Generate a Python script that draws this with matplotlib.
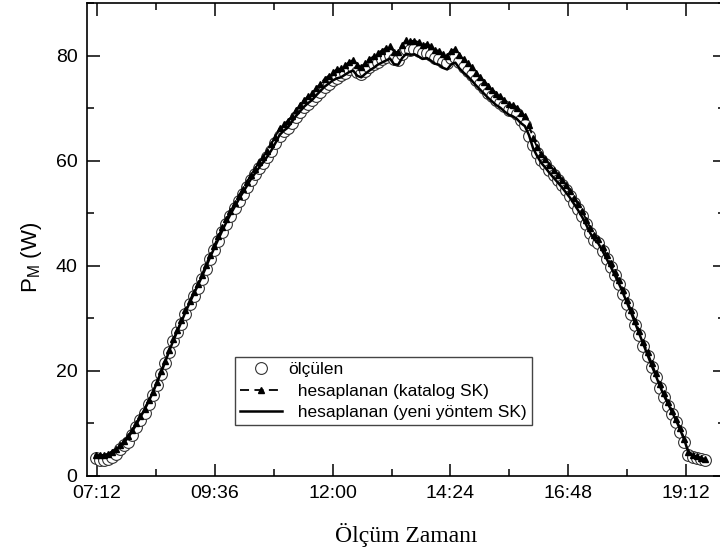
import numpy as np
import matplotlib
matplotlib.use('Agg')
import matplotlib.pyplot as plt
from matplotlib.ticker import FixedLocator, MultipleLocator

plt.rcParams['font.family'] = ['Liberation Sans', 'DejaVu Sans']

# olcumler 07:10'dan itibaren 5 dakikada bir (saat cinsinden)
t_start = 7 + 10 / 60.
t_step = 5 / 60.

# olculen guc (W), her satir bir saat
olculen = [
    3.3, 3.0, 3.0, 3.2, 3.5, 4.2, 5.0, 5.8, 6.5, 7.8, 9.3, 10.7,
    12.0, 13.6, 15.3, 17.3, 19.4, 21.5, 23.6, 25.6, 27.3, 29.0, 30.9, 32.7,
    34.3, 35.8, 37.4, 39.3, 41.3, 43.0, 44.7, 46.4, 48.0, 49.5, 51.0, 52.4,
    53.7, 55.0, 56.3, 57.5, 58.6, 59.6, 60.7, 61.9, 63.3, 64.7, 65.6, 66.2,
    67.2, 68.3, 69.3, 70.2, 70.9, 71.5, 72.4, 73.2, 74.0, 74.6, 75.3, 75.8,
    76.3, 76.8, 77.4, 77.8, 77.0, 76.6, 77.2, 77.9, 78.4, 78.9, 79.4, 79.8,
    80.2, 79.4, 79.2, 80.4, 81.3, 81.2, 81.3, 81.0, 80.5, 80.6, 80.2, 79.6,
    79.4, 78.9, 78.6, 79.5, 79.7, 78.8, 77.9, 77.2, 76.4, 75.4, 74.7, 73.8,
    73.0, 72.3, 71.6, 71.1, 70.4, 69.7, 69.4, 68.9, 67.8, 66.8, 64.8, 63.0,
    61.4, 60.2, 59.3, 58.2, 57.3, 56.4, 55.3, 54.4, 53.3, 52.0, 50.8, 49.5,
    47.9, 46.3, 45.0, 44.3, 42.8, 41.3, 39.7, 38.2, 36.5, 34.7, 32.7, 30.8,
    28.8, 26.8, 24.8, 22.8, 20.8, 18.8, 16.8, 15.0, 13.3, 11.7, 10.2, 8.4,
    6.4, 4.0, 3.6, 3.3, 3.1, 2.9,
]

# katalog degerleriyle hesaplanan
katalog = [
    3.9, 3.9, 4.0, 4.2, 4.6, 5.1, 5.8, 6.6, 7.5, 8.7, 10.0, 11.4,
    12.8, 14.4, 16.0, 17.9, 19.9, 21.9, 24.0, 26.0, 27.8, 29.6, 31.5, 33.3,
    35.0, 36.6, 38.3, 40.2, 42.1, 43.8, 45.6, 47.3, 48.9, 50.4, 51.9, 53.3,
    54.7, 56.0, 57.3, 58.5, 59.7, 60.7, 61.9, 63.2, 64.6, 66.2, 67.0, 67.6,
    68.5, 69.6, 70.6, 71.6, 72.3, 72.9, 73.9, 74.7, 75.6, 76.2, 76.9, 77.4,
    77.6, 78.2, 78.8, 79.2, 78.2, 77.9, 78.7, 79.4, 79.9, 80.6, 81.0, 81.5,
    81.9, 80.8, 80.7, 82.1, 83.0, 82.8, 82.9, 82.6, 82.0, 82.3, 81.8, 81.2,
    80.9, 80.3, 80.0, 81.0, 81.3, 80.2, 79.3, 78.6, 77.8, 76.8, 76.0, 75.1,
    74.3, 73.5, 72.8, 72.3, 71.6, 70.9, 70.6, 70.1, 69.2, 68.6, 66.8, 64.3,
    62.6, 61.2, 60.3, 59.2, 58.3, 57.3, 56.3, 55.3, 54.2, 53.0, 51.7, 50.4,
    48.8, 47.2, 45.9, 45.1, 43.6, 42.1, 40.5, 38.9, 37.2, 35.4, 33.4, 31.5,
    29.5, 27.5, 25.5, 23.5, 21.5, 19.5, 17.5, 15.7, 14.0, 12.4, 10.8, 9.0,
    7.0, 4.6, 4.0, 3.7, 3.4, 3.2,
]

# yeni yontemle hesaplanan
yeni = [
    3.8, 3.8, 3.9, 4.1, 4.4, 5.0, 5.6, 6.4, 7.3, 8.5, 9.8, 11.2,
    12.6, 14.2, 15.8, 17.7, 19.6, 21.6, 23.7, 25.7, 27.5, 29.3, 31.2, 32.9,
    34.6, 36.2, 37.9, 39.7, 41.6, 43.3, 45.0, 46.7, 48.3, 49.8, 51.2, 52.6,
    53.9, 55.2, 56.5, 57.6, 58.7, 59.7, 60.8, 62.0, 63.4, 64.9, 65.7, 66.3,
    67.4, 68.5, 69.4, 70.3, 71.0, 71.6, 72.5, 73.3, 74.1, 74.7, 75.3, 75.7,
    75.9, 76.4, 76.9, 77.2, 76.2, 75.9, 76.6, 77.2, 77.7, 78.3, 78.7, 79.1,
    79.5, 78.4, 78.3, 79.6, 80.4, 80.2, 80.3, 79.9, 79.4, 79.6, 79.1, 78.5,
    78.3, 77.7, 77.4, 78.4, 78.7, 77.6, 76.8, 76.1, 75.3, 74.4, 73.6, 72.8,
    72.0, 71.3, 70.6, 70.1, 69.4, 68.8, 68.5, 68.0, 67.2, 66.6, 64.9, 62.4,
    60.9, 59.6, 58.7, 57.7, 56.8, 55.9, 55.0, 54.0, 53.0, 51.8, 50.6, 49.3,
    47.8, 46.2, 45.0, 44.2, 42.8, 41.3, 39.8, 38.2, 36.6, 34.8, 32.9, 31.0,
    29.0, 27.0, 25.0, 23.0, 21.0, 19.1, 17.1, 15.3, 13.7, 12.1, 10.5, 8.7,
    6.8, 4.4, 3.9, 3.6, 3.3, 3.1,
]

tick_hours = [7.2, 9.6, 12.0, 14.4, 16.8, 19.2]
tick_labels = ['07:12', '09:36', '12:00', '14:24', '16:48', '19:12']

t = t_start + t_step * np.arange(len(olculen))

fig = plt.figure(figsize=(7.2, 5.56), dpi=100)
ax = fig.add_axes([0.1213, 0.1444, 0.886, 0.8496])

ax.plot(t, olculen, 'o', ms=8.5, mfc='white', mec='#333333', mew=0.8,
        label='ölçülen')
ax.plot(t, katalog, '--^', color='k', ms=4.5, lw=1.3, dashes=(5, 3),
        label='  hesaplanan (katalog SK)')
ax.plot(t, yeni, '-', color='k', lw=1.8,
        label='  hesaplanan (yeni yöntem SK)')

ax.set_xlim(7.0, 20.0)
ax.set_ylim(0, 90)
ax.xaxis.set_major_locator(FixedLocator(tick_hours))
ax.set_xticklabels(tick_labels)
ax.xaxis.set_minor_locator(FixedLocator([8.4, 10.8, 13.2, 15.6, 18.0]))
ax.yaxis.set_major_locator(MultipleLocator(20))
ax.yaxis.set_minor_locator(MultipleLocator(10))

ax.tick_params(which='both', direction='in', top=True, right=True, width=1.1)
ax.tick_params(which='major', length=9, labelsize=14, pad=7)
ax.tick_params(which='minor', length=5)
for s in ax.spines.values():
    s.set_linewidth(1.2)

ax.set_xlabel('Ölçüm Zamanı', family='Liberation Serif', fontsize=17)
ax.xaxis.set_label_coords(0.5, -0.1)
ax.set_ylabel(r'$\mathregular{P_M}$ (W)', fontsize=16)
ax.yaxis.set_label_coords(-0.068, 0.463)

leg = ax.legend(loc='upper left', bbox_to_anchor=(0.2315, 0.2513),
                borderaxespad=0, fontsize=12.5, handlelength=2.4,
                handletextpad=0.35, labelspacing=0.35, borderpad=0.3,
                fancybox=False, framealpha=1, numpoints=1)
leg.get_frame().set_edgecolor('#444444')
leg.get_frame().set_linewidth(1.0)

fig.savefig('out.png', dpi=100)
